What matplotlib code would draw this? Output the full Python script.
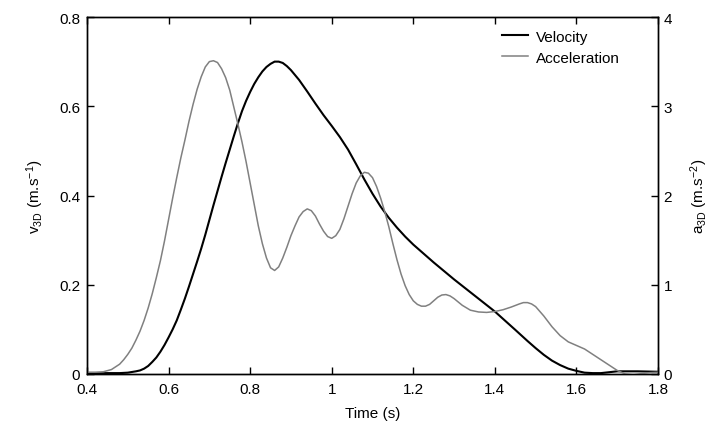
import matplotlib
matplotlib.use("Agg")
import matplotlib.pyplot as plt
from matplotlib.ticker import FuncFormatter

plt.rcParams['font.family'] = ['Liberation Sans', 'DejaVu Sans']
plt.rcParams['mathtext.fontset'] = 'custom'
plt.rcParams['mathtext.rm'] = 'Liberation Sans'
plt.rcParams['mathtext.it'] = 'Liberation Sans'

vel_t = [0.40, 0.45, 0.48, 0.50, 0.52, 0.53, 0.54, 0.55, 0.56, 0.57, 0.58, 0.59,
         0.60, 0.61, 0.62, 0.63, 0.64, 0.65, 0.66, 0.67, 0.68, 0.69, 0.70, 0.71,
         0.72, 0.73, 0.74, 0.75, 0.76, 0.77, 0.78, 0.79, 0.80, 0.81, 0.82, 0.83,
         0.84, 0.85, 0.86, 0.87, 0.88, 0.89, 0.90, 0.92, 0.94, 0.96, 0.98, 1.00,
         1.02, 1.04, 1.06, 1.08, 1.10, 1.12, 1.14, 1.16, 1.18, 1.20, 1.25, 1.30,
         1.35, 1.40, 1.45, 1.48, 1.50, 1.52, 1.54, 1.56, 1.58, 1.60, 1.62, 1.64,
         1.66, 1.68, 1.70, 1.75, 1.80]
vel_v = [0.001, 0.002, 0.002, 0.003, 0.006, 0.008, 0.012, 0.018, 0.027, 0.037, 0.050, 0.065,
         0.082, 0.100, 0.120, 0.144, 0.169, 0.196, 0.224, 0.252, 0.281, 0.312, 0.345, 0.378,
         0.410, 0.442, 0.473, 0.503, 0.533, 0.562, 0.589, 0.612, 0.632, 0.650, 0.665, 0.678,
         0.688, 0.695, 0.700, 0.700, 0.697, 0.690, 0.681, 0.659, 0.633, 0.606, 0.580, 0.556,
         0.531, 0.503, 0.470, 0.436, 0.404, 0.375, 0.350, 0.328, 0.308, 0.290, 0.250, 0.212,
         0.176, 0.140, 0.099, 0.074, 0.058, 0.043, 0.030, 0.020, 0.012, 0.007, 0.003, 0.002,
         0.002, 0.004, 0.006, 0.006, 0.005]

acc_t = [0.40, 0.42, 0.44, 0.46, 0.47, 0.48, 0.49, 0.50, 0.51, 0.52, 0.53, 0.54,
         0.55, 0.56, 0.57, 0.58, 0.59, 0.60, 0.61, 0.62, 0.63, 0.64, 0.65, 0.66,
         0.67, 0.68, 0.69, 0.70, 0.71, 0.72, 0.73, 0.74, 0.75, 0.76, 0.77, 0.78,
         0.79, 0.80, 0.81, 0.82, 0.83, 0.84, 0.85, 0.86, 0.87, 0.88, 0.89, 0.90,
         0.91, 0.92, 0.93, 0.94, 0.95, 0.96, 0.97, 0.98, 0.99, 1.00, 1.01, 1.02,
         1.03, 1.04, 1.05, 1.06, 1.07, 1.08, 1.09, 1.10, 1.11, 1.12, 1.13, 1.14,
         1.15, 1.16, 1.17, 1.18, 1.19, 1.20, 1.21, 1.22, 1.23, 1.24, 1.25, 1.26,
         1.27, 1.28, 1.29, 1.30, 1.32, 1.34, 1.36, 1.38, 1.40, 1.42, 1.44, 1.46,
         1.47, 1.48, 1.49, 1.50, 1.52, 1.54, 1.56, 1.58, 1.60, 1.62, 1.64, 1.66,
         1.68, 1.70, 1.72, 1.74, 1.76, 1.78, 1.80]
acc_a = [0.02, 0.02, 0.025, 0.05, 0.08, 0.11, 0.16, 0.22, 0.29, 0.38, 0.48, 0.60,
         0.74, 0.90, 1.08, 1.27, 1.49, 1.73, 1.97, 2.20, 2.42, 2.62, 2.83, 3.02,
         3.19, 3.33, 3.44, 3.50, 3.51, 3.49, 3.42, 3.32, 3.18, 2.99, 2.80, 2.60,
         2.38, 2.14, 1.90, 1.66, 1.46, 1.30, 1.19, 1.16, 1.20, 1.30, 1.42, 1.55,
         1.66, 1.76, 1.82, 1.85, 1.83, 1.77, 1.68, 1.60, 1.54, 1.52, 1.55, 1.62,
         1.74, 1.88, 2.02, 2.14, 2.22, 2.26, 2.25, 2.20, 2.10, 1.97, 1.82, 1.65,
         1.46, 1.28, 1.12, 0.99, 0.89, 0.82, 0.78, 0.76, 0.76, 0.78, 0.82, 0.86,
         0.885, 0.89, 0.875, 0.845, 0.77, 0.715, 0.695, 0.69, 0.70, 0.72, 0.75, 0.785,
         0.80, 0.80, 0.785, 0.755, 0.65, 0.53, 0.43, 0.36, 0.32, 0.28, 0.22, 0.16,
         0.10, 0.04, 0.00, -0.01, 0.005, 0.015, 0.02]

x_ticks = [0.4, 0.6, 0.8, 1.0, 1.2, 1.4, 1.6, 1.8]
v_ticks = [0, 0.2, 0.4, 0.6, 0.8]
a_ticks = [0, 1, 2, 3, 4]

fig = plt.figure(figsize=(7.21, 4.35), dpi=100)
ax1 = fig.add_axes([87/721, 60/435, (658-87)/721, (375-18)/435])
ax2 = ax1.twinx()

l1, = ax1.plot(vel_t, vel_v, color='black', lw=1.5, label='Velocity')
l2, = ax2.plot(acc_t, acc_a, color='#808080', lw=1.1, label='Acceleration')

ax1.set_xlim(0.4, 1.8)
ax1.set_ylim(0, 0.8)
ax2.set_ylim(0, 4)
ax1.set_xticks(x_ticks)
ax1.set_yticks(v_ticks)
ax2.set_yticks(a_ticks)
fmt = FuncFormatter(lambda v, p: ('%g' % round(v, 3)))
ax1.xaxis.set_major_formatter(fmt)
ax1.yaxis.set_major_formatter(fmt)
ax2.yaxis.set_major_formatter(fmt)

for ax in (ax1, ax2):
    for s in ax.spines.values():
        s.set_linewidth(1.0)
ax1.tick_params(axis='x', direction='in', top=True, length=5, width=1, labelsize=11, pad=6)
ax1.tick_params(axis='y', direction='in', right=False, length=5, width=1, labelsize=11, pad=5)
ax2.tick_params(axis='y', direction='in', length=5, width=1, labelsize=11, pad=4)

ax1.set_xlabel('Time (s)', fontsize=11, labelpad=7)
ax1.set_ylabel(r'v$_{\mathregular{3D}}$ (m.s$^{\mathregular{-1}}$)', fontsize=11, labelpad=9)
ax2.set_ylabel(r'a$_{\mathregular{3D}}$ (m.s$^{\mathregular{-2}}$)', fontsize=11, labelpad=12)

ax2.legend([l1, l2], ['Velocity', 'Acceleration'], loc='upper right', frameon=False,
           fontsize=11, handlelength=1.7, handletextpad=0.55, labelspacing=0.45,
           bbox_to_anchor=(0.95, 0.99), borderaxespad=0.2)

fig.savefig('out.png', dpi=100)
